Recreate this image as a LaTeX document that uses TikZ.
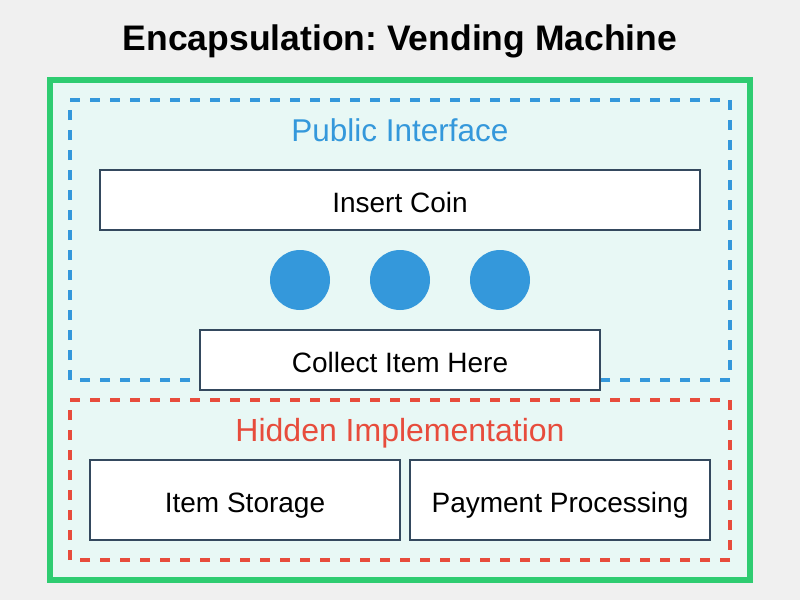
\documentclass[tikz,border=0pt]{standalone}
\usepackage{fontspec}
\setmainfont{Liberation Sans}
\frenchspacing
\definecolor{bgc}{HTML}{F0F0F0}
\definecolor{greenc}{HTML}{2ECC71}
\definecolor{mint}{HTML}{E8F8F5}
\definecolor{bluec}{HTML}{3498DB}
\definecolor{redc}{HTML}{E74C3C}
\definecolor{boxline}{HTML}{34495E}
\begin{document}
\begin{tikzpicture}[x=1pt,y=-1pt,
  box/.style={draw=boxline,line width=2pt,fill=white,rectangle,inner sep=0pt,
    text height=24pt,text depth=0pt,font=\fontsize{28}{32}\selectfont},
  dot/.style={circle,fill=bluec,minimum size=60pt,inner sep=0pt},
  zone/.style={line width=3.2pt,dash pattern=on 10pt off 10pt}]
\fill[bgc] (0,0) rectangle (800,600);
\useasboundingbox (0,0) rectangle (800,600);
\node[anchor=base,font=\fontsize{35.5}{40}\selectfont\bfseries] (title) at (400,50) {Encapsulation: Vending Machine};
\draw[greenc,line width=6pt,fill=mint] (50,80) rectangle (750,580);
\coordinate (pa) at (70,100);
\coordinate (pb) at (730,100);
\coordinate (pc) at (730,380);
\coordinate (pd) at (70,380);
\draw[zone,bluec] (pa) -- (pb) -- (pc) -- (pd) -- cycle;
\coordinate (ha) at (70,400);
\coordinate (hb) at (730,400);
\coordinate (hc) at (730,560);
\coordinate (hd) at (70,560);
\draw[zone,redc] (ha) -- (hb) -- (hc) -- (hd) -- cycle;
\node[anchor=base,text=bluec,font=\fontsize{31.5}{36}\selectfont] (pub) at (400,141) {Public Interface};
\node[anchor=base,text=redc,font=\fontsize{32}{36}\selectfont] (hid) at (400,441) {Hidden Implementation};
\node[box,minimum width=600pt,minimum height=60pt] (coin) at (400,200) {Insert Coin};
\node[dot] (d1) at (300,280) {};
\node[dot] (d2) at (400,280) {};
\node[dot] (d3) at (500,280) {};
\node[box,minimum width=400pt,minimum height=60pt] (collect) at (400,360) {Collect Item Here};
\node[box,minimum width=310pt,minimum height=80pt] (store) at (245,500) {Item Storage};
\node[box,minimum width=300pt,minimum height=80pt] (pay) at (560,500) {Payment Processing};
\end{tikzpicture}
\end{document}
